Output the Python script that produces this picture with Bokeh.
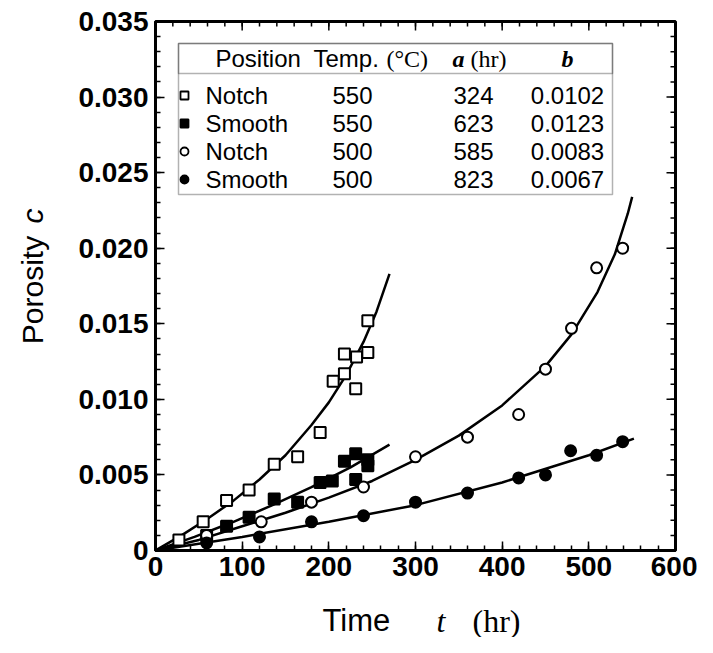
import math
from bokeh.plotting import figure
from bokeh.layouts import row, column
from bokeh.models import LinearAxis, FixedTicker, Label, BoxAnnotation, Range1d
from bokeh.core.properties import value
from bokeh.embed import file_html
from bokeh.resources import INLINE

# ---------------- data ----------------
notch550_t = [27, 55, 82, 108, 137, 164, 190, 205, 218, 218, 231, 232, 245, 245]
notch550_c = [0.0007, 0.0019, 0.0033, 0.0040, 0.0057, 0.0062, 0.0078, 0.0112,
              0.0117, 0.0130, 0.0107, 0.0128, 0.0131, 0.0152]

smooth550_t = [59, 82, 108, 137, 164, 190, 204, 218, 231, 231, 245, 245]
smooth550_c = [0.0010, 0.0016, 0.0022, 0.0034, 0.0032, 0.0045, 0.0046, 0.0059,
               0.0064, 0.0047, 0.0060, 0.0056]

notch500_t = [59, 122, 180, 240, 300, 360, 419, 450, 480, 509, 539]
notch500_c = [0.0010, 0.0019, 0.0032, 0.0042, 0.0062, 0.0075, 0.0090, 0.0120,
              0.0147, 0.0187, 0.0200]

smooth500_t = [59, 120, 180, 240, 300, 360, 419, 450, 479, 509, 539]
smooth500_c = [0.0005, 0.0009, 0.0019, 0.0023, 0.0032, 0.0038, 0.0048, 0.0050,
               0.0066, 0.0063, 0.0072]

# fitted curves
fit_n550_t = [0, 30, 60, 90, 120, 150, 180, 200, 220, 240, 255, 270]
fit_n550_c = [0, 0.0010, 0.0021, 0.0033, 0.0047, 0.0063, 0.0083, 0.0098,
              0.0116, 0.0138, 0.0158, 0.0183]
fit_s550_t = [0, 45, 90, 135, 180, 225, 270]
fit_s550_c = [0, 0.0009, 0.0019, 0.0030, 0.0042, 0.0055, 0.0070]
fit_n500_t = [0, 50, 100, 150, 200, 250, 300, 350, 400, 450, 480, 510, 530, 545, 550]
fit_n500_c = [0, 0.0007, 0.0016, 0.0025, 0.0035, 0.0046, 0.0060, 0.0076,
              0.0096, 0.0122, 0.0143, 0.0171, 0.0196, 0.0223, 0.0234]
fit_s500_t = [0, 100, 200, 300, 400, 500, 552]
fit_s500_c = [0, 0.0009, 0.0019, 0.0030, 0.0045, 0.0063, 0.0074]

# legend table
tbl_position = ["Notch", "Smooth", "Notch", "Smooth"]
tbl_temp = ["550", "550", "500", "500"]
tbl_a = ["324", "623", "585", "823"]
tbl_b = ["0.0102", "0.0123", "0.0083", "0.0067"]

x_ticks = [0, 100, 200, 300, 400, 500, 600]
x_minor = list(range(0, 601, 20))
y_ticks = [0, 0.005, 0.010, 0.015, 0.020, 0.025, 0.030, 0.035]
y_minor = [round(i * 0.001, 3) for i in range(0, 36)]
y_tick_labels = ["0", "0.005", "0.010", "0.015", "0.020", "0.025", "0.030", "0.035"]

x_title = ["Time", "t", "(hr)"]
y_title = ["Porosity", "c"]

# ---------------- layout (page px measured from the canvas top-left) ----------------
W, H = 697, 637
YT_W = 60            # strip for the y title
XT_H = 37            # strip for the x title
FL, FT, FW, FH = 155, 21, 520, 529
XMAX, YMAX = 600, 0.035
PW, PH = W - YT_W, H - XT_H

SANS = "Liberation Sans"
SERIF = "Liberation Serif"

p = figure(width=PW, height=PH, frame_width=FW, frame_height=FH,
           x_range=Range1d(0, XMAX), y_range=Range1d(0, YMAX),
           output_backend="svg", toolbar_location=None,
           x_axis_type=None, y_axis_type=None,
           min_border_left=FL - YT_W, min_border_top=FT,
           min_border_right=PW - (FL - YT_W) - FW, min_border_bottom=PH - FT - FH)
p.background_fill_color = "white"
p.border_fill_color = "white"
p.outline_line_color = "black"
p.outline_line_width = 3
p.xgrid.visible = False
p.ygrid.visible = False


def px2x(px):  # page px -> data x
    return (px - FL) / FW * XMAX


def py2y(py):  # page px -> data y
    return (FT + FH - py) / FH * YMAX


TICK_IN, MTICK_IN = 9, 5


def style_axis(ax):
    ax.axis_line_width = 3
    ax.major_tick_in = TICK_IN
    ax.major_tick_out = 0
    ax.minor_tick_in = MTICK_IN
    ax.minor_tick_out = 0
    ax.major_tick_line_width = 1.5
    ax.minor_tick_line_width = 1.5
    ax.major_label_text_font = SANS
    ax.major_label_text_font_style = "bold"
    ax.major_label_text_font_size = "28px"
    ax.major_label_text_color = "black"


xax = LinearAxis(ticker=FixedTicker(ticks=x_ticks, minor_ticks=x_minor))
style_axis(xax)
xax.major_label_standoff = 6
p.add_layout(xax, "below")

yax = LinearAxis(ticker=FixedTicker(ticks=y_ticks, minor_ticks=y_minor))
style_axis(yax)
yax.major_label_overrides = {t: s for t, s in zip(y_ticks, y_tick_labels)}
yax.major_label_standoff = 7
p.add_layout(yax, "left")

# mirrored ticks on the top and right borders
dy_major = TICK_IN / FH * YMAX
dy_minor = MTICK_IN / FH * YMAX
dx_major = TICK_IN / FW * XMAX
dx_minor = MTICK_IN / FW * XMAX
p.segment(x0=x_ticks, y0=[YMAX] * len(x_ticks), x1=x_ticks,
          y1=[YMAX - dy_major] * len(x_ticks), line_color="black", line_width=1.5)
p.segment(x0=x_minor, y0=[YMAX] * len(x_minor), x1=x_minor,
          y1=[YMAX - dy_minor] * len(x_minor), line_color="black", line_width=1.5)
p.segment(x0=[XMAX] * len(y_ticks), y0=y_ticks, x1=[XMAX - dx_major] * len(y_ticks),
          y1=y_ticks, line_color="black", line_width=1.5)
p.segment(x0=[XMAX] * len(y_minor), y0=y_minor, x1=[XMAX - dx_minor] * len(y_minor),
          y1=y_minor, line_color="black", line_width=1.5)

# ---------------- curves ----------------
LW = 2.5
for t, c in ((fit_n550_t, fit_n550_c), (fit_s550_t, fit_s550_c),
             (fit_n500_t, fit_n500_c), (fit_s500_t, fit_s500_c)):
    p.line(t, c, line_color="black", line_width=LW)

# ---------------- markers ----------------
MS = 11
p.scatter(notch550_t, notch550_c, marker="square", size=MS, fill_color="white",
          line_color="black", line_width=2)
p.scatter(smooth550_t, smooth550_c, marker="square", size=MS, fill_color="black",
          line_color="black", line_width=2)
p.scatter(notch500_t, notch500_c, marker="circle", size=MS, fill_color="white",
          line_color="black", line_width=2)
p.scatter(smooth500_t, smooth500_c, marker="circle", size=MS, fill_color="black",
          line_color="black", line_width=2)

# ---------------- legend table ----------------
LBL, LBR, LBT, LBB, LHD = 178, 612, 43, 194, 73
p.add_layout(BoxAnnotation(left=px2x(LBL), right=px2x(LBR), top=py2y(LBT), bottom=py2y(LBB),
                           fill_alpha=0, line_color="black", line_width=1.5))
p.add_layout(BoxAnnotation(left=px2x(LBL), right=px2x(LBR), top=py2y(LBT), bottom=py2y(LHD),
                           fill_alpha=0, line_color="black", line_width=1.5))

FS = "24px"


def lab(text, px, py, font=SANS, size=FS, style="normal", align="left"):
    p.add_layout(Label(x=px2x(px), y=py2y(py), text=text, text_font=font,
                       text_font_size=size, text_font_style=style, text_align=align,
                       text_baseline="middle", text_color="black"))


hy = 58
lab("Position", 215, hy)
lab("Temp.", 313, hy)
lab("(°C)", 386, hy, font=SERIF)
lab("a", 452, hy, font=SERIF, style="bold italic")
lab("(hr)", 470, hy, font=SERIF)
lab("b", 567, hy, font=SERIF, style="bold italic", align="center")

row_y = [95, 123, 151, 179]
mk_x = px2x(184)
mk_y = [py2y(v) for v in row_y]
p.scatter([mk_x], [mk_y[0]], marker="square", size=8, fill_color="white", line_color="black", line_width=1.8)
p.scatter([mk_x], [mk_y[1]], marker="square", size=8, fill_color="black", line_color="black", line_width=1.8)
p.scatter([mk_x], [mk_y[2]], marker="circle", size=8, fill_color="white", line_color="black", line_width=1.8)
p.scatter([mk_x], [mk_y[3]], marker="circle", size=8, fill_color="black", line_color="black", line_width=1.8)
for i, ry in enumerate(row_y):
    lab(tbl_position[i], 205, ry)
    lab(tbl_temp[i], 352, ry, align="center")
    lab(tbl_a[i], 473, ry, align="center")
    lab(tbl_b[i], 567, ry, align="center")


# ---------------- title strips (text glyphs in pixel-sized ranges) ----------------
def strip(w, h):
    f = figure(width=w, height=h, x_range=Range1d(0, w), y_range=Range1d(0, h),
               output_backend="svg", toolbar_location=None,
               x_axis_location=None, y_axis_location=None,
               min_border=0, min_border_left=0, min_border_right=0,
               min_border_top=0, min_border_bottom=0)
    f.outline_line_color = None
    f.xgrid.visible = False
    f.ygrid.visible = False
    f.background_fill_color = "white"
    f.border_fill_color = "white"
    return f


# y title strip: page x 0..YT_W, page y 0..PH
ys = strip(YT_W, PH)
ys.text(x=[32], y=[PH - 366], text=[y_title[0]], angle=math.pi / 2,
        text_font=value(SANS), text_font_size="30px", text_align="left",
        text_baseline="middle", text_color="black")
ys.text(x=[32], y=[PH - 229], text=[y_title[1]], angle=math.pi / 2,
        text_font=value(SANS), text_font_size="30px", text_font_style="italic",
        text_align="left", text_baseline="middle", text_color="black")

# x title strip: page x 0..W, page y PH..H
xs = strip(W, XT_H)
mid = H - 620            # text middle at page y 620
xs.text(x=[322], y=[mid], text=[x_title[0]], text_font=value(SANS),
        text_font_size="31px", text_align="left", text_baseline="middle",
        text_color="black")
xs.text(x=[436], y=[mid], text=[x_title[1]], text_font=value(SERIF),
        text_font_size="32px", text_font_style="italic", text_align="left",
        text_baseline="middle", text_color="black")
xs.text(x=[472], y=[mid], text=[x_title[2]], text_font=value(SERIF),
        text_font_size="32px", text_align="left", text_baseline="middle",
        text_color="black")

layout = column(row(ys, p, spacing=0), xs, spacing=0)

open("out.html", "w").write(file_html(layout, INLINE))
